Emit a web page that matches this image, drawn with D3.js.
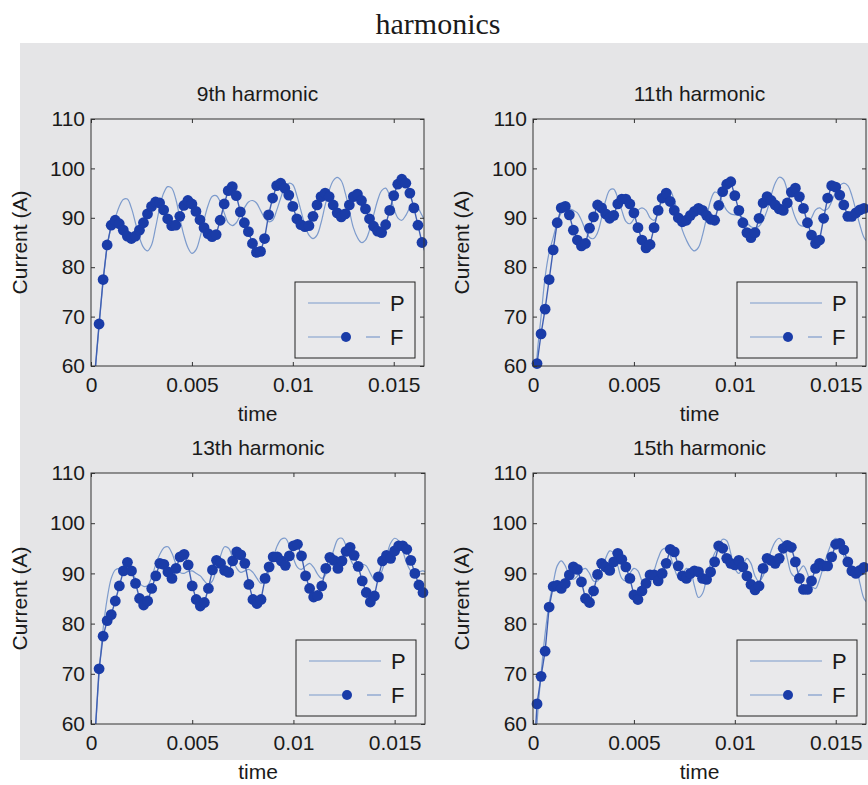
<!DOCTYPE html>
<html>
<head>
<meta charset="utf-8">
<script src="https://cdn.jsdelivr.net/npm/d3@7"></script>
<style>
body { margin: 0; background: #fff; }
svg { display: block; }
text { font-family: "Liberation Sans", Arial, sans-serif; fill: #1a1a1a; }
</style>
</head>
<body>
<svg id="canvas" width="868" height="785"></svg>
<script>
// sample step of every series (s), first value at t = 0
const dt = 0.0002;
const xMax = 0.0165;
const xTicks = [0, 0.005, 0.01, 0.015];
const xTickLabels = ["0", "0.005", "0.01", "0.015"];
const yTicks = [60, 70, 80, 90, 100, 110];
const titles = ["9th harmonic", "11th harmonic", "13th harmonic", "15th harmonic"];
const legendNames = ["P", "F"];

// 9th harmonic
const p9 = [40, 58, 68, 77, 84, 88, 90, 92.3, 93.7, 93.8,
    92, 89, 86, 84, 83.3, 84.5, 88, 92, 95, 96.3,
    96, 93.8, 90, 86.5, 84, 82.8, 83.5, 86, 89.5, 92.5,
    94.3, 94.5, 93.3, 91, 89, 88.4, 89, 90.6, 92, 93.2,
    93.5, 93, 91.5, 90, 89.2, 89.5, 91.5, 94, 96.2, 97,
    96.7, 94.5, 91.5, 88.5, 86.5, 85.8, 86.5, 89, 92.5, 95.5,
    97.5, 98.2, 97.5, 95, 91.5, 88, 86, 85, 85.5, 87.5,
    90.5, 93.5, 95.5, 96, 94.5, 92, 90, 89.5, 90.5, 92,
    92.6, 92, 90.5, 89];
const f9 = [45, 59, 68.5, 77.5, 84.5, 88.5, 89.5, 88.8, 87.5, 86.3,
    85.8, 86.3, 87.5, 89, 90.8, 92.3, 93.2, 93, 91.6, 89.8,
    88.4, 88.5, 90.3, 92.5, 93.5, 92.8, 91.3, 89.6, 88, 86.8,
    86.2, 86.6, 89.5, 92.8, 95.5, 96.3, 94.5, 91.2, 89, 87.2,
    84.8, 83, 83.2, 85.8, 90.6, 94, 96.5, 97, 96, 94.6,
    92.3, 89.8, 88.6, 88.2, 88.4, 90.3, 92.6, 94.3, 95, 94.3,
    92.6, 91, 90.2, 90.8, 92.6, 94.3, 94.8, 93.5, 91.8, 89.8,
    88.3, 87.3, 87, 88.6, 91.5, 94.5, 96.8, 97.8, 97, 95,
    92, 88.5, 85, 82.5];

// 11th harmonic
const p11 = [45, 62, 70, 78, 83, 86, 89, 91, 91.8, 91.8,
    91.5, 91, 89.5, 87.5, 86, 85.8, 87, 90, 93.5, 95.6,
    95.8, 94, 91.5, 89.3, 88.8, 89.8, 91.5, 92, 91.5, 90,
    89.5, 91, 94, 95.8, 95.5, 93.5, 90.5, 87.5, 85.5, 84,
    83.3, 84, 86.5, 90, 93.5, 95.2, 94.8, 93, 91.5, 90.8,
    90.6, 90.5, 90, 89, 88.2, 88, 88.3, 89.5, 91.5, 94.5,
    97, 98.2, 97.8, 95.5, 92.5, 90, 88.6, 88.3, 88.8, 90,
    91.6, 92, 91.5, 91.8, 93.3, 95.2, 96.5, 97, 96.5, 94.5,
    91.5, 88.5, 86, 85];
const f11 = [50, 60.5, 66.5, 71.5, 77.5, 83.5, 89, 92, 92.3, 90.6,
    87.5, 85.5, 84.3, 84.8, 87.9, 90.2, 92.6, 92, 90.8, 89.9,
    90.5, 92.8, 93.8, 93.8, 92.8, 91, 88, 85.5, 83.9, 84.6,
    88, 91.5, 94, 95, 93.3, 91.5, 90, 89.2, 89.5, 90.5,
    91.3, 91.9, 91.5, 90.5, 89.7, 89.5, 92.5, 95.3, 96.8, 97.3,
    94.5, 91.5, 89, 87, 86, 87, 89.9, 93, 94.3, 93.5,
    92.6, 91.8, 91.5, 93, 95.2, 96, 94.3, 91.9, 89, 86.5,
    84.8, 85.5, 89.9, 94, 96.5, 96.2, 94.6, 92.6, 90.3, 90.3,
    91, 91.6, 91.9, 91.9];

// 13th harmonic
const p13 = [40, 57, 70, 79, 85, 89, 90.7, 91, 90.8, 90.5,
    90, 89, 88, 87.4, 87.6, 89.3, 91.8, 93.8, 95.1, 95.3,
    94, 91.8, 90.2, 90, 90.4, 90.5, 90, 89.5, 88.5, 87.8,
    88.5, 91, 93.5, 95.3, 95, 93, 91, 90.2, 90.5, 90.8,
    90.2, 89, 88, 88.5, 90.5, 93, 95.5, 96.8, 97, 95.5,
    93, 91.2, 90.8, 91.5, 92, 91.2, 89.8, 89, 89.8, 92,
    94.8, 96.8, 97, 95.5, 93, 91.5, 91.2, 91.8, 91.5, 90,
    88.8, 89, 90.8, 93.5, 96, 97, 96.5, 94.5, 92, 90.5,
    90, 90.3, 90.5, 90];
const f13 = [50, 58, 71, 77.5, 80.6, 81.8, 84.5, 87.5, 90.5, 92.2,
    90.5, 88, 85, 83.7, 84.5, 87, 89.5, 92, 91.8, 90.3,
    89, 91, 93.3, 93.8, 91.7, 87.5, 84.8, 83.5, 84.2, 87,
    90.7, 92.6, 92, 90.6, 90.2, 92.5, 94.3, 93.7, 92, 87.8,
    84.8, 84, 84.8, 89, 91.3, 93.3, 93.3, 92.5, 91.6, 93.5,
    95.5, 95.8, 93.5, 89.5, 87, 85.3, 85.6, 87.5, 91, 93.2,
    92.6, 91, 92.5, 94.4, 95.2, 93.6, 91.4, 88.5, 86.2, 84.3,
    85.5, 89.3, 92.5, 93.6, 93, 94.5, 95.5, 95.5, 94.8, 92.6,
    90, 87.7, 86.2, 85];

// 15th harmonic
const p15 = [40, 60, 70, 78, 84, 88, 91.5, 92.5, 91.5, 89.5,
    88.8, 89.5, 90.6, 91, 90, 88.5, 88.5, 90.5, 93, 94.5,
    94, 91.5, 89, 88.5, 90, 91, 90.5, 88.5, 87.3, 88,
    90.5, 93, 94.7, 95, 93.5, 91, 89.3, 89.8, 91, 90.5,
    87.5, 85.2, 86, 89, 92, 94, 95.5, 96.8, 96.5, 94,
    91, 90, 91.5, 93, 92, 89.5, 88.3, 89.5, 92, 94.5,
    96.3, 97, 96, 93, 90, 89.3, 90.5, 91.5, 90, 87.5,
    87, 88.8, 91.5, 94, 96, 97, 96, 93.5, 91.5, 91.5,
    91, 88, 85, 84];
const f15 = [50, 64, 69.5, 74.5, 83.3, 87.4, 87.6, 87, 88, 89.7,
    91.3, 90.8, 88.3, 85, 84.2, 86.5, 89.8, 92, 91.3, 90.6,
    92.3, 94, 92.8, 91.3, 89, 85.7, 84.8, 86.5, 88, 89.7,
    89.7, 88.5, 90, 92, 94.8, 94.3, 91.5, 89.5, 89, 90,
    90.5, 90.3, 89, 88.8, 90.3, 92.3, 95.5, 95, 93, 92,
    91.7, 92.6, 91.3, 89.5, 87.8, 86.7, 87.5, 91, 93, 92.6,
    92, 93, 95, 95.6, 95.2, 92.3, 89, 86.8, 86.8, 88.5,
    91, 92, 91.5, 91.5, 93.3, 95.8, 96, 94.7, 92.3, 90.5,
    90, 90.6, 91.2, 91.4];

const figBg = "#e5e5e7";
const axBg = "#e9e9eb";
const pColor = "#7d9bcc";
const fColor = "#1a3ca8";

const svg = d3.select("#canvas");

svg.append("rect")
    .attr("x", 20).attr("y", 43)
    .attr("width", 848).attr("height", 717)
    .attr("fill", figBg);

svg.append("text")
    .attr("x", 438).attr("y", 34)
    .attr("text-anchor", "middle")
    .style("font-family", "'Liberation Serif', 'Times New Roman', serif")
    .style("font-size", "30px")
    .text("harmonics");

const panels = [
    {title: titles[0], P: p9, F: f9, left: 91, right: 424, top: 119, bottom: 366},
    {title: titles[1], P: p11, F: f11, left: 533, right: 866, top: 119, bottom: 366},
    {title: titles[2], P: p13, F: f13, left: 91, right: 425, top: 473, bottom: 724},
    {title: titles[3], P: p15, F: f15, left: 533, right: 866, top: 473, bottom: 724}
];

function styleAxis(g) {
    g.select(".domain").remove();
    g.selectAll(".tick line").attr("stroke", "#333").attr("stroke-width", 1);
    g.selectAll(".tick text").style("font-size", "21px").attr("fill", "#1a1a1a");
}

function drawPanel(p, idx) {
    const x = d3.scaleLinear().domain([0, xMax]).range([p.left, p.right]);
    const y = d3.scaleLinear().domain([60, 110]).range([p.bottom, p.top]);
    const g = svg.append("g");
    const w = p.right - p.left, h = p.bottom - p.top;

    g.append("rect")
        .attr("x", p.left).attr("y", p.top)
        .attr("width", w).attr("height", h)
        .attr("fill", axBg);

    const clipId = "clip" + idx;
    g.append("clipPath").attr("id", clipId)
        .append("rect")
        .attr("x", p.left).attr("y", p.top)
        .attr("width", w).attr("height", h);

    const toPts = arr => arr.map((v, i) => [i * dt, v]);
    const pPts = toPts(p.P);
    const fPts = toPts(p.F);

    const smooth = d3.line()
        .x(d => x(d[0])).y(d => y(d[1]))
        .curve(d3.curveCatmullRom.alpha(0.5));
    const straight = d3.line()
        .x(d => x(d[0])).y(d => y(d[1]));

    const plotArea = g.append("g").attr("clip-path", `url(#${clipId})`);
    plotArea.append("path")
        .attr("d", smooth(pPts))
        .attr("fill", "none")
        .attr("stroke", pColor)
        .attr("stroke-width", 1.2);
    plotArea.append("path")
        .attr("d", straight(fPts))
        .attr("fill", "none")
        .attr("stroke", "#3f5fb3")
        .attr("stroke-width", 1.4);

    g.append("g").selectAll("circle")
        .data(fPts.filter(d => d[0] <= xMax && d[1] >= 60))
        .join("circle")
        .attr("cx", d => x(d[0]))
        .attr("cy", d => y(d[1]))
        .attr("r", 5.4)
        .attr("fill", fColor);

    // axes, ticks pointing inward on all four sides
    g.append("g")
        .attr("transform", `translate(0,${p.bottom})`)
        .call(d3.axisBottom(x).tickValues(xTicks).tickSizeInner(-4).tickSizeOuter(0)
            .tickPadding(11).tickFormat((d, i) => xTickLabels[i]))
        .call(styleAxis);
    g.append("g")
        .attr("transform", `translate(0,${p.top})`)
        .call(d3.axisTop(x).tickValues(xTicks).tickSizeInner(-4).tickSizeOuter(0).tickFormat(""))
        .call(styleAxis);
    g.append("g")
        .attr("transform", `translate(${p.left},0)`)
        .call(d3.axisLeft(y).tickValues(yTicks).tickSizeInner(-4).tickSizeOuter(0)
            .tickPadding(6).tickFormat(d3.format("d")))
        .call(styleAxis);
    g.append("g")
        .attr("transform", `translate(${p.right},0)`)
        .call(d3.axisRight(y).tickValues(yTicks).tickSizeInner(-4).tickSizeOuter(0).tickFormat(""))
        .call(styleAxis);

    g.append("rect")
        .attr("x", p.left).attr("y", p.top)
        .attr("width", w).attr("height", h)
        .attr("fill", "none")
        .attr("stroke", "#333")
        .attr("stroke-width", 1);

    // legend
    const lx = p.right - 129, ly = p.bottom - 84;
    const lg = g.append("g").attr("transform", `translate(${lx},${ly})`);
    lg.append("rect")
        .attr("width", 120).attr("height", 76)
        .attr("fill", axBg)
        .attr("stroke", "#222")
        .attr("stroke-width", 1);
    lg.append("line")
        .attr("x1", 13).attr("x2", 85).attr("y1", 21).attr("y2", 21)
        .attr("stroke", pColor).attr("stroke-width", 1.2);
    lg.append("line")
        .attr("x1", 13).attr("x2", 46).attr("y1", 55).attr("y2", 55)
        .attr("stroke", pColor).attr("stroke-width", 1.2);
    lg.append("line")
        .attr("x1", 71).attr("x2", 85).attr("y1", 55).attr("y2", 55)
        .attr("stroke", pColor).attr("stroke-width", 1.2);
    lg.append("circle")
        .attr("cx", 51).attr("cy", 55).attr("r", 5)
        .attr("fill", fColor);
    lg.selectAll("text.leg")
        .data(legendNames)
        .join("text")
        .attr("class", "leg")
        .attr("x", 95)
        .attr("y", (d, i) => 29 + i * 34)
        .style("font-size", "22px")
        .text(d => d);

    // titles and labels
    const cx = (p.left + p.right) / 2;
    g.append("text")
        .attr("x", cx).attr("y", p.top - 18)
        .attr("text-anchor", "middle")
        .style("font-size", "21px")
        .text(p.title);
    g.append("text")
        .attr("x", cx).attr("y", p.bottom + 55)
        .attr("text-anchor", "middle")
        .style("font-size", "21px")
        .text("time");
    g.append("text")
        .attr("transform", `translate(${p.left - 64},${(p.top + p.bottom) / 2}) rotate(-90)`)
        .attr("text-anchor", "middle")
        .style("font-size", "21px")
        .text("Current (A)");
}

panels.forEach((p, i) => drawPanel(p, i));
</script>
</body>
</html>
